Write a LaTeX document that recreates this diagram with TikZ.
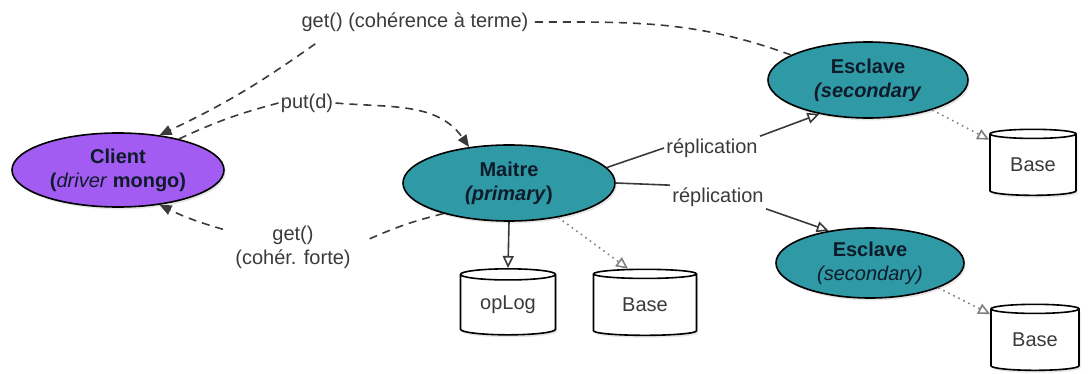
\documentclass[tikz,border=0pt]{standalone}
\usepackage{fontspec}
\setmainfont{Liberation Sans}
\usetikzlibrary{shapes.geometric,arrows.meta,shadows}
\definecolor{violetclient}{HTML}{A35CF2}
\definecolor{bleucanard}{HTML}{2F9AA5}
\definecolor{encre}{HTML}{0E1B2A}
\definecolor{gristexte}{HTML}{3A3A3A}
\tikzstyle{every node}=[font=\fontsize{10}{12}\selectfont]
\tikzstyle{acteur}=[ellipse,draw=black,thick,inner sep=0pt,align=center,text=encre,
    drop shadow={opacity=0.2,shadow xshift=0.8pt,shadow yshift=-1.2pt}]
\tikzstyle{client}=[acteur,fill=violetclient]
\tikzstyle{serveur}=[acteur,fill=bleucanard]
\tikzstyle{stockage}=[cylinder,shape border rotate=90,aspect=0.2,draw=black,thick,fill=white,
    text=gristexte,inner sep=0pt,minimum height=33pt,
    drop shadow={opacity=0.2,shadow xshift=0.8pt,shadow yshift=-1.2pt}]
\tikzstyle{etiquette}=[text=gristexte,inner sep=1pt,align=center]
\tikzstyle{requete}=[draw=gristexte,thick,dash pattern=on 4pt off 3pt]
\tikzstyle{flux}=[draw=gristexte,thick]
\tikzstyle{copie}=[draw=gray,thick,dotted]
\tikzstyle{plein}=[-{Triangle[length=6pt,width=5pt]}]
\tikzstyle{ouvert}=[-{Triangle[open,length=6pt,width=5.5pt,fill=white]}]

\begin{document}
\begin{tikzpicture}[x=0.5pt,y=-0.5pt]
    \useasboundingbox (0,0) rectangle (1088,374);
    \node[client,minimum width=106pt,minimum height=37pt] (client) at (118,170)
        {\textbf{Client}\\\textbf{(}\textit{driver} \textbf{mongo)}};
    \node[serveur,minimum width=106pt,minimum height=38pt] (maitre) at (509,183)
        {\textbf{Maitre}\\\textbf{\textit{(primary})}};
    \node[serveur,minimum width=100pt,minimum height=38pt] (esclave1) at (868,80)
        {\textbf{Esclave}\\\textbf{\textit{(secondary}}};
    \node[serveur,minimum width=94pt,minimum height=35pt] (esclave2) at (870,263)
        {\textbf{Esclave}\\\textit{(secondary)}};
    \node[stockage,minimum width=47.5pt] (oplog) at (508,305) {opLog};
    \node[stockage,minimum width=51.5pt] (basemaitre) at (645,305) {Base};
    \node[stockage,minimum width=43pt] (base1) at (1033,165) {Base};
    \node[stockage,minimum width=44pt] (base2) at (1035,340) {Base};
    \node[etiquette] (getterme) at (415,22) {get() (cohérence à terme)};
    \node[etiquette] (put) at (307,103) {put(d)};
    \node[etiquette] (getforte) at (293,247) {get()\\(cohér. forte)};
    \node[etiquette] (repl1) at (712,148) {réplication};
    \node[etiquette] (repl2) at (718,197) {réplication};
    \draw[requete] (esclave1.162) to[out=160,in=0] (getterme.east);
    \draw[requete,plein] ([xshift=8pt,yshift=-5pt]getterme.south west) to[bend left=5] (client.40);
    \draw[requete] (client.27) to[bend left=5] (put.west);
    \draw[requete,plein] (put.east) to[out=-5,in=125] (maitre.138);
    \draw[requete] (maitre.205) to[bend right=5] ([xshift=7pt,yshift=3.5pt]getforte.east);
    \draw[requete,plein] ([xshift=-5pt,yshift=-3pt]getforte.north west) to[bend left=5] (client.-40);
    \draw[flux] (maitre.9) -- (repl1.west);
    \draw[flux,ouvert] (repl1.north east) -- (esclave1.215);
    \draw[flux] (maitre.east) -- (repl2.north west);
    \draw[flux,ouvert] (repl2.south east) -- (esclave2.142);
    \draw[flux,ouvert] (maitre.south) -- (oplog.north);
    \draw[copie,ouvert] (maitre.-35) -- (basemaitre.115);
    \draw[copie,ouvert] (esclave1.-25) -- (base1.150);
    \draw[copie,ouvert] (esclave2.-20) -- (base2.150);
\end{tikzpicture}
\end{document}
